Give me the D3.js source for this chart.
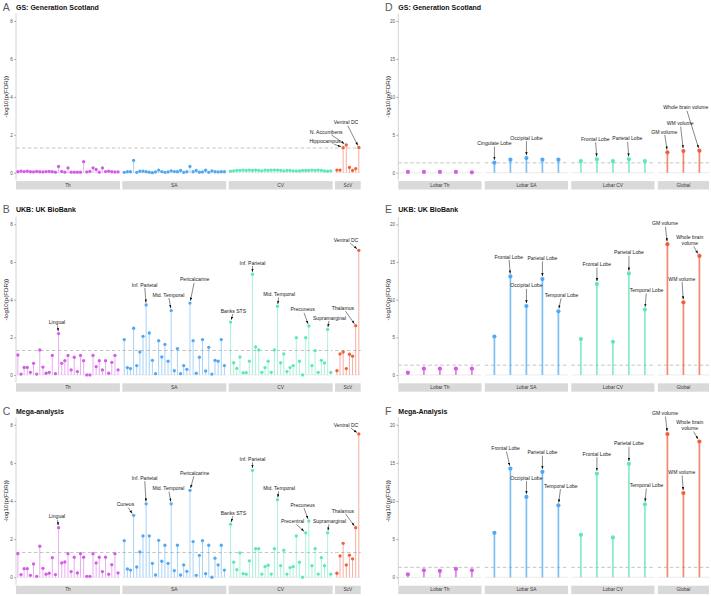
<!DOCTYPE html>
<html><head><meta charset="utf-8">
<script src="https://cdn.jsdelivr.net/npm/d3@7"></script>
<style>body{margin:0;background:#fff} svg{display:block} text{font-family:"Liberation Sans",Arial,sans-serif}</style>
</head><body><svg id="c" width="711" height="596"></svg>
<script>
// ---------- categories ----------
const regions = ["Banks STS","Caudal Ant. Cingulate","Caudal Mid. Frontal","Cuneus","Entorhinal","Frontal Pole","Fusiform","Inf. Parietal","Inf. Temporal","Insula","Isthmus Cingulate","Lat. Occipital","Lat. Orbitofrontal","Lingual","Med. Orbitofrontal","Mid. Temporal","Paracentral","Parahippocampal","Pars Opercularis","Pars Orbitalis","Pars Triangularis","Pericalcarine","Postcentral","Post. Cingulate","Precentral","Precuneus","Rost. Ant. Cingulate","Rost. Mid. Frontal","Sup. Frontal","Sup. Parietal","Sup. Temporal","Supramarginal","Temporal Pole"];
const subcortical = ["Amygdala","Caudate","Hippocampus","N. Accumbens","Pallidum","Putamen","Thalamus","Ventral DC"];
const lobes = ["Cingulate Lobe","Frontal Lobe","Occipital Lobe","Parietal Lobe","Temporal Lobe"];
const globalMeasures = ["GM volume","WM volume","Whole brain volume"];
const regionalFacets = ["Th","SA","CV","ScV"];
const lobarFacets = ["Lobar Th","Lobar SA","Lobar CV","Global"];
const leftTicks = [0,2,4,6,8];
const rightTicks = [0,5,10,15,20];
const threshold = 1.3;

// ---------- values: -log10(p(FDR)) ----------
const gsTh  = [0.05,0.08,0.06,0.08,0.05,0.04,0.07,0.05,0.04,0.06,0.07,0.05,0.03,0.33,0.07,0.03,0.25,0.03,0.03,0.03,0.03,0.58,0.04,0.07,0.26,0.17,0.03,0.25,0.06,0.08,0.05,0.04,0.04];
const gsSA  = [0.02,0.05,0.05,0.65,0.02,0.08,0.08,0.05,0.03,0.0,0.04,0.14,0.06,0.02,0.04,0.1,0.06,0.05,0.12,0.02,0.05,0.33,0.05,0.12,0.03,0.04,0.13,0.02,0.1,0.05,0.04,0.05,0.05];
const gsCV  = [0.08,0.1,0.12,0.12,0.14,0.12,0.14,0.12,0.14,0.12,0.1,0.14,0.12,0.14,0.14,0.14,0.12,0.1,0.12,0.12,0.1,0.1,0.1,0.12,0.12,0.12,0.14,0.12,0.14,0.12,0.1,0.08,0.1];
const gsScV = [0.14,0.14,1.32,1.46,0.28,0.12,0.22,1.33];

const ukbTh  = [1.06,0.05,0.4,0.4,0.14,0.62,0.05,1.33,0.42,0.09,0.14,1.04,0.07,2.2,0.62,0.76,1.04,0.27,0.94,0.18,1.04,0.76,0.0,0.0,1.04,0.44,0.76,0.27,0.76,0.09,0.67,1.04,0.27];
const ukbSA  = [1.88,0.39,0.34,2.48,0.5,1.22,2.05,3.72,2.23,0.78,0.07,1.82,0.96,1.63,0.73,3.42,0.23,1.4,0.07,0.5,0.3,3.82,1.82,0.09,0.94,1.88,0.21,1.47,0.05,0.78,0.73,1.88,0.5];
const ukbCV  = [2.81,0.65,0.35,0.96,0.12,0.12,0.73,5.35,1.49,1.33,0.14,0.39,0.73,0.14,1.33,3.65,0.65,1.12,0.18,0.39,0.5,1.98,0.73,0.0,1.98,2.6,0.5,1.29,0.14,0.78,0.64,2.42,0.14];
const ukbScV = [0.23,1.12,1.22,0.34,1.1,1.0,2.62,6.62];

const megaTh  = [1.24,0.14,0.45,0.45,0.1,0.7,0.05,1.63,0.47,0.16,0.21,1.03,0.14,2.6,0.75,0.8,1.24,0.3,1.05,0.23,1.24,1.05,0.05,0.05,1.24,0.75,1.05,0.3,1.05,0.16,0.66,1.24,0.23];
const megaSA  = [1.92,0.44,0.38,3.25,0.54,1.33,2.17,3.85,2.17,0.73,0.12,1.94,0.84,1.68,0.73,3.85,0.35,1.68,0.12,0.65,0.31,4.56,1.87,0.1,1.15,1.92,0.19,1.68,0.0,1.0,0.65,1.68,0.38];
const megaCV  = [2.78,0.79,0.4,1.28,0.19,0.16,0.86,5.61,1.5,1.5,0.17,0.56,0.63,0.17,1.5,4.07,0.61,1.42,0.17,0.51,0.56,2.17,0.79,0.0,2.33,2.95,0.61,1.5,0.17,1.03,0.61,2.33,0.16];
const megaScV = [0.21,1.12,1.78,0.65,1.16,0.97,2.6,7.52];

const gsLobTh = [0.1,0.1,0.1,0.1,0.05], gsLobSA = [1.32,1.72,1.94,1.72,1.72], gsLobCV = [1.54,1.76,1.54,1.76,1.54], gsGlobal = [2.69,2.86,2.9];
const ukbLobTh = [0.31,0.84,0.84,0.84,0.84], ukbLobSA = [5.11,13.08,9.16,12.73,8.46], ukbLobCV = [4.76,12.07,4.41,13.48,8.68], ukbGlobal = [17.36,9.65,15.81];
const megaLobTh = [0.39,0.92,0.83,1.1,0.92], megaLobSA = [5.83,14.25,10.53,13.82,9.43], megaLobCV = [5.57,13.6,5.22,14.87,9.56], megaGlobal = [18.77,11.05,17.8];

// ---------- labels: [facet, category, text, label x offset (steps), label y (value)] ----------
const gsLabels = [[3,"Hippocampus","Hippocampus",-5.8,1.67],[3,"N. Accumbens","N. Accumbens",-6.4,2.16],[3,"Ventral DC","Ventral DC",-4.1,2.64]];
const ukbLabels = [[0,"Lingual","Lingual",-0.5,2.8],[1,"Inf. Parietal","Inf. Parietal",-0.5,4.79],[1,"Mid. Temporal","Mid. Temporal",-0.9,4.26],[1,"Pericalcarine","Pericalcarine",1.5,5.06],
  [2,"Banks STS","Banks STS",0.9,3.41],[2,"Inf. Parietal","Inf. Parietal",0,5.96],[2,"Mid. Temporal","Mid. Temporal",0.5,4.28],[2,"Precuneus","Precuneus",-2,3.47],[2,"Supramarginal","Supramarginal",0.6,3.04],
  [3,"Thalamus","Thalamus",-4.1,3.56],[3,"Ventral DC","Ventral DC",-4.1,7.17]];
const megaLabels = [[0,"Lingual","Lingual",-0.5,3.18],[1,"Cuneus","Cuneus",-2.6,3.83],[1,"Inf. Parietal","Inf. Parietal",-0.5,5.21],[1,"Mid. Temporal","Mid. Temporal",-0.9,4.65],[1,"Pericalcarine","Pericalcarine",1.5,5.47],
  [2,"Banks STS","Banks STS",0.9,3.37],[2,"Inf. Parietal","Inf. Parietal",0,6.2],[2,"Mid. Temporal","Mid. Temporal",0.5,4.67],[2,"Precentral","Precentral",-4.2,2.94],[2,"Precuneus","Precuneus",-2,3.79],[2,"Supramarginal","Supramarginal",0.6,2.94],
  [3,"Thalamus","Thalamus",-4.1,3.49],[3,"Ventral DC","Ventral DC",-4.1,7.99]];
const gsLobLabels = [[1,"Cingulate Lobe","Cingulate Lobe",0,3.88],[1,"Occipital Lobe","Occipital Lobe",0,4.61],[2,"Frontal Lobe","Frontal Lobe",-0.1,4.44],[2,"Parietal Lobe","Parietal Lobe",-0.1,4.49],
  [3,"GM volume","GM volume",-0.2,5.4],[3,"WM volume","WM volume",-0.2,6.5],[3,"Whole brain volume","Whole brain volume",-0.85,8.6]];
const ukbLobLabels = [[1,"Frontal Lobe","Frontal Lobe",-0.1,15.69],[1,"Occipital Lobe","Occipital Lobe",0,11.86],[1,"Parietal Lobe","Parietal Lobe",0,15.5],[1,"Temporal Lobe","Temporal Lobe",0.2,10.58],
  [2,"Frontal Lobe","Frontal Lobe",0,14.67],[2,"Parietal Lobe","Parietal Lobe",0,16.26],[2,"Temporal Lobe","Temporal Lobe",0.1,11.24],
  [3,"GM volume","GM volume",-0.15,20.09],[3,"WM volume","WM volume",-0.1,12.78],[3,"Whole brain volume","Whole brain\nvolume",-0.6,17.87]];
const megaLobLabels = [[1,"Frontal Lobe","Frontal Lobe",-0.3,16.92],[1,"Occipital Lobe","Occipital Lobe",0,13.03],[1,"Parietal Lobe","Parietal Lobe",0,16.36],[1,"Temporal Lobe","Temporal Lobe",0.15,11.97],
  [2,"Frontal Lobe","Frontal Lobe",0,16.18],[2,"Parietal Lobe","Parietal Lobe",0,17.54],[2,"Temporal Lobe","Temporal Lobe",0.1,12.05],
  [3,"GM volume","GM volume",-0.15,21.49],[3,"WM volume","WM volume",-0.1,13.76],[3,"Whole brain volume","Whole brain\nvolume",-0.6,19.9]];

// ---------- style ----------
const colors = ["#D45DE6","#52A8F2","#5EE8B7","#F0603F"];
const FONT = '"Liberation Sans",Arial,sans-serif';

const svg = d3.select("#c");
svg.append("defs").append("marker").attr("id","ah").attr("markerUnits","userSpaceOnUse")
  .attr("viewBox","0 0 4 3").attr("refX",4).attr("refY",1.5).attr("markerWidth",3.2).attr("markerHeight",2.4).attr("orient","auto")
  .append("path").attr("d","M0,0L4,1.5L0,3Z").attr("fill","#111");

const leftCol = {x0:16, x1:360.7, gap:2.4, domain:[-0.4,8.4], ticks:leftTicks, cats:[regions,regions,regions,subcortical], facets:regionalFacets, r:1.65, stemW:1, stemOp:0.5};
const rightCol = {x0:398.3, x1:709, gap:3.3, domain:[-1,21], ticks:rightTicks, cats:[lobes,lobes,lobes,globalMeasures], facets:lobarFacets, r:2.1, stemW:1.7, stemOp:0.75};
const rows = [{top:13.4,bottom:180.3,titleY:9.5},{top:216.8,bottom:382.5,titleY:211.7},{top:417.1,bottom:584.9,titleY:414}];

const panels = [
  {col:leftCol,row:rows[0],letter:"A",title:"GS: Generation Scotland",vals:[gsTh,gsSA,gsCV,gsScV],labels:gsLabels},
  {col:leftCol,row:rows[1],letter:"B",title:"UKB: UK BioBank",vals:[ukbTh,ukbSA,ukbCV,ukbScV],labels:ukbLabels},
  {col:leftCol,row:rows[2],letter:"C",title:"Mega-analysis",vals:[megaTh,megaSA,megaCV,megaScV],labels:megaLabels},
  {col:rightCol,row:rows[0],letter:"D",title:"GS: Generation Scotland",vals:[gsLobTh,gsLobSA,gsLobCV,gsGlobal],labels:gsLobLabels},
  {col:rightCol,row:rows[1],letter:"E",title:"UKB: UK BioBank",vals:[ukbLobTh,ukbLobSA,ukbLobCV,ukbGlobal],labels:ukbLobLabels},
  {col:rightCol,row:rows[2],letter:"F",title:"Mega-Analysis",vals:[megaLobTh,megaLobSA,megaLobCV,megaGlobal],labels:megaLobLabels}
];

panels.forEach(p => {
  const c = p.col, row = p.row;
  const g = svg.append("g");
  const y = d3.scaleLinear().domain(c.domain).range([row.bottom,row.top]);
  const units = c.cats.map(cs => cs.length - 1 + 1.2);
  const totU = d3.sum(units);
  const W = c.x1 - c.x0 - c.gap*(units.length-1);
  let cur = c.x0;
  const xs = c.cats.map((cs,i) => {
    const w = W*units[i]/totU;
    const sc = d3.scalePoint().domain(cs).range([cur,cur+w]).padding(0.6);
    sc.x0 = cur; sc.x1 = cur+w; cur += w + c.gap;
    return sc;
  });
  g.append("text").attr("x", c.x0-13.3).attr("y", row.titleY+1.3).text(p.letter)
    .attr("font-size",10.5).attr("fill","#595959").attr("font-family",FONT);
  g.append("text").attr("x", c.x0).attr("y", row.titleY).text(p.title)
    .attr("font-size",7).attr("font-weight","bold").attr("fill","#111").attr("font-family",FONT);
  const yAxis = d3.axisLeft(y).tickValues(c.ticks).tickSize(1.8).tickPadding(1.5);
  const ga = g.append("g").attr("transform",`translate(${c.x0},0)`).call(yAxis);
  ga.select(".domain").attr("stroke","#CFCFCF").attr("stroke-width",0.9).attr("d",`M0,${row.top}V${row.bottom}`);
  ga.selectAll(".tick line").attr("stroke","#777").attr("stroke-width",0.6);
  ga.selectAll(".tick text").attr("font-size",4.6).attr("fill","#555").attr("font-family",FONT);
  g.append("text").attr("transform",`translate(${c.x0-8.5},${(row.top+row.bottom)/2}) rotate(-90)`)
    .attr("text-anchor","middle").attr("font-size",6.2).attr("fill","#222").attr("font-family",FONT).text("-log10(p(FDR))");

  xs.forEach((sc,i) => {
    const fg = g.append("g");
    fg.append("line").attr("x1",sc.x0).attr("x2",sc.x1).attr("y1",y(0)).attr("y2",y(0)).attr("stroke","#EBEBEB").attr("stroke-width",1);
    fg.append("line").attr("x1",sc.x0).attr("x2",sc.x1).attr("y1",y(threshold)).attr("y2",y(threshold))
      .attr("stroke","#BDBDBD").attr("stroke-width",0.9).attr("stroke-dasharray","3.5,2.5");
    const data = c.cats[i].map((k,j) => ({k, v:p.vals[i][j]}));
    fg.selectAll("line.stem").data(data).join("line").attr("class","stem")
      .attr("x1",d=>sc(d.k)).attr("x2",d=>sc(d.k)).attr("y1",y(0)).attr("y2",d=>y(d.v))
      .attr("stroke",colors[i]).attr("stroke-opacity",c.stemOp).attr("stroke-width",c.stemW);
    fg.selectAll("circle").data(data).join("circle")
      .attr("cx",d=>sc(d.k)).attr("cy",d=>y(d.v)).attr("r",c.r).attr("fill",colors[i]);
    fg.append("rect").attr("x",sc.x0).attr("y",row.bottom+0.8).attr("width",sc.x1-sc.x0).attr("height",8.4).attr("fill","#D9D9D9");
    fg.append("text").attr("x",(sc.x0+sc.x1)/2).attr("y",row.bottom+5.1).attr("text-anchor","middle").attr("dominant-baseline","middle")
      .attr("font-size",4.8).attr("fill","#3a3a3a").attr("font-family",FONT).text(c.facets[i]);
  });

  p.labels.forEach(L => {
    const [fi, cat, txt, dx, ly] = L;
    const sc = xs[fi];
    const idx = c.cats[fi].indexOf(cat);
    const px = sc(cat), py = y(p.vals[fi][idx]);
    const lx = px + dx*sc.step(), lyp = y(ly);
    const lines = txt.split("\n");
    const t = g.append("text").attr("text-anchor","middle").attr("font-size",5.1).attr("fill","#1a1a1a").attr("font-family",FONT);
    const lh = 5.8;
    lines.forEach((s,k) => t.append("tspan").attr("x",lx).attr("y", lyp + (k-(lines.length-1)/2)*lh + 1.8).text(s));
    const bb = t.node().getBBox();
    const cx = bb.x+bb.width/2, cy = bb.y+bb.height/2;
    const hw = bb.width/2+0.6, hh = bb.height/2+0.4;
    const vx = px-cx, vy = py-cy;
    let tt = Math.min(vx!==0?hw/Math.abs(vx):Infinity, vy!==0?hh/Math.abs(vy):Infinity);
    if (tt >= 1) return;
    const sx = cx+vx*tt, sy = cy+vy*tt;
    const len = Math.hypot(px-sx,py-sy);
    const pad = c.r+0.7;
    if (len <= pad+1) return;
    const ex = px-(px-sx)/len*pad, ey = py-(py-sy)/len*pad;
    g.append("line").attr("x1",sx).attr("y1",sy).attr("x2",ex).attr("y2",ey)
      .attr("stroke","#111").attr("stroke-width",0.5).attr("marker-end","url(#ah)");
  });
});
</script></body></html>
